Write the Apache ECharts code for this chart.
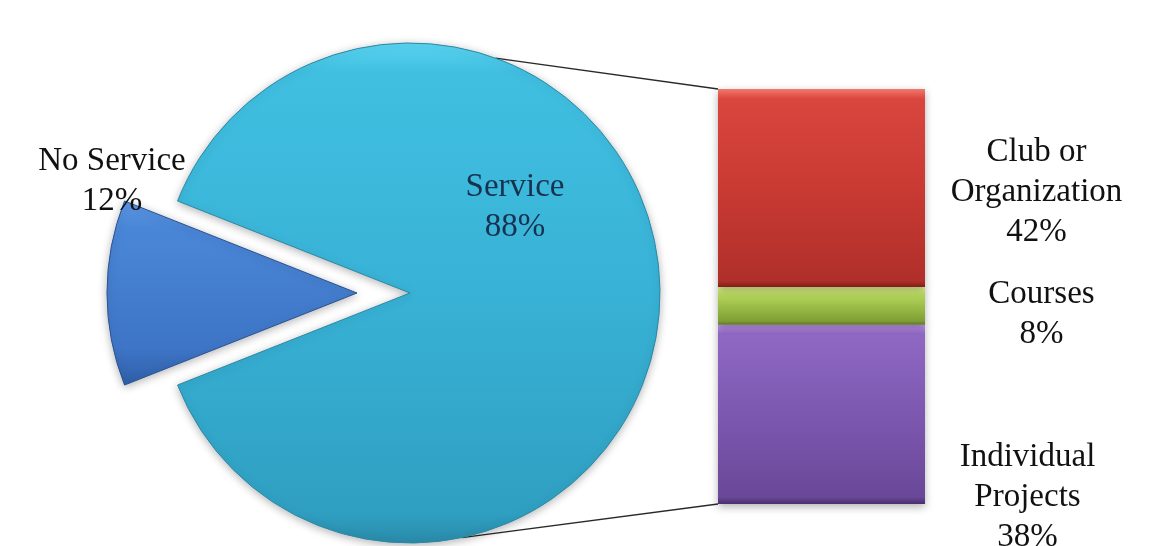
<!DOCTYPE html>
<html>
<head>
<meta charset="utf-8">
<script src="https://cdn.jsdelivr.net/npm/echarts@6/dist/echarts.min.js"></script>
<style>
  html, body { margin: 0; padding: 0; background: #ffffff; }
  #chart { width: 1171px; height: 546px; }
</style>
</head>
<body>
<div id="chart"></div>
<script>
// Pie: share of students doing service
const pieNames = ['No Service', 'Service'];
const pieValues = [12, 88];

// Bar: breakdown of the service share (bottom to top)
const barNames = ['Individual\nProjects', 'Courses', 'Club or\nOrganization'];
const barValues = [38, 8, 42];

// Layout
const PIE = { cx: 410, cy: 293, r: 250, explode: 53 };
const GRID = { left: 718, top: 89, width: 207, height: 415 };
const FONT = '"Liberation Serif", "DejaVu Serif", serif';

const pieTotal = pieValues.reduce((a, b) => a + b, 0);
const barTotal = barValues.reduce((a, b) => a + b, 0);
// Centre the "No Service" slice on the left side of the pie
const startAngle = 180 + (pieValues[0] / pieTotal) * 180;

function vGrad(stops) {
  return {
    type: 'linear', x: 0, y: 0, x2: 0, y2: 1,
    colorStops: stops.map(s => ({ offset: s[0], color: s[1] }))
  };
}

const pieStyles = [
  { color: vGrad([[0, '#5b95e2'], [0.15, '#4a86d7'], [0.8, '#3e75c6'], [1, '#2f5ea8']]),
    borderColor: '#2a5293', borderWidth: 1 },
  { color: vGrad([[0, '#5ad5f2'], [0.06, '#40bfe1'], [0.5, '#38b2d6'], [0.94, '#2f9fc1'], [1, '#2a8aa8']]),
    borderColor: '#2a89a6', borderWidth: 1 }
];
// Label anchors relative to the pie centre
const pieLabelAt = [
  { dx: -298, dy: -112, color: '#111111' },
  { dx: 105, dy: -86, color: '#17324f' }
];

const barStyles = [
  vGrad([[0, '#c79af5'], [0.05, '#8f68c4'], [0.5, '#7c58b0'], [0.96, '#6a4898'], [1, '#4a3070']]),
  vGrad([[0, '#e4f590'], [0.22, '#b2d45a'], [0.6, '#95b743'], [0.9, '#7f9e36'], [1, '#5e7626']]),
  vGrad([[0, '#f2786a'], [0.05, '#d9463e'], [0.5, '#c93a33'], [0.97, '#b02f2a'], [1, '#7d1f1c']])
];
const barLabelOffset = [[206, 83], [220, 8], [215, 4]];

const chart = echarts.init(document.getElementById('chart'), null, { renderer: 'canvas' });

// One pie layer per slice so the "No Service" slice can sit pulled out to the left
function pieLayer(visibleIndex, center) {
  return {
    type: 'pie',
    center: center,
    radius: PIE.r,
    startAngle: startAngle,
    clockwise: true,
    avoidLabelOverlap: false,
    silent: true,
    emphasis: { disabled: true },
    data: pieValues.map((v, i) => {
      const on = i === visibleIndex;
      return {
        name: pieNames[i],
        value: v,
        itemStyle: on
          ? Object.assign({ shadowColor: 'rgba(0,0,0,0.28)', shadowBlur: 8, shadowOffsetY: 2 }, pieStyles[i])
          : { color: 'rgba(0,0,0,0)', borderWidth: 0 },
        label: { show: on, color: pieLabelAt[i].color }
      };
    }),
    label: {
      position: 'inside',
      formatter: '{b}\n{c}%',
      fontFamily: FONT,
      fontSize: 33,
      lineHeight: 40,
      align: 'center'
    },
    labelLine: { show: false },
    labelLayout: p => ({
      x: PIE.cx + pieLabelAt[p.dataIndex].dx,
      y: PIE.cy + pieLabelAt[p.dataIndex].dy,
      align: 'center',
      verticalAlign: 'middle'
    })
  };
}

// Pull-out direction: middle of the "No Service" slice
const midRad = (startAngle - (pieValues[0] / pieTotal) * 180) * Math.PI / 180;
const outCenter = [PIE.cx + PIE.explode * Math.cos(midRad), PIE.cy - PIE.explode * Math.sin(midRad)];

const barSeries = barValues.map((v, i) => ({
  type: 'bar',
  name: barNames[i],
  stack: 'service',
  data: [v],
  barWidth: '100%',
  silent: true,
  itemStyle: {
    color: barStyles[i],
    shadowColor: 'rgba(0,0,0,0.3)',
    shadowBlur: 8,
    shadowOffsetY: 3
  },
  label: {
    show: true,
    position: 'inside',
    offset: barLabelOffset[i],
    formatter: p => barNames[i] + '\n' + p.value + '%',
    fontFamily: FONT,
    fontSize: 33,
    lineHeight: 40,
    color: '#111111',
    align: 'center'
  }
}));

chart.setOption({
  animation: false,
  backgroundColor: '#ffffff',
  grid: { left: GRID.left, top: GRID.top, width: GRID.width, height: GRID.height },
  xAxis: { type: 'category', data: ['Service'], show: false },
  yAxis: { type: 'value', min: 0, max: barTotal, show: false },
  series: [
    pieLayer(1, [PIE.cx, PIE.cy]),
    pieLayer(0, outCenter),
    ...barSeries
  ]
});

// Connector lines from the pie rim to the corners of the bar
function rimPoint(deg) {
  const a = deg * Math.PI / 180;
  return [PIE.cx + PIE.r * Math.cos(a), PIE.cy - PIE.r * Math.sin(a)];
}
const topRim = rimPoint(70);
const botRim = rimPoint(-78);
const barTopLeft = [GRID.left, GRID.top];
const barBotLeft = [GRID.left, GRID.top + GRID.height];
const connStyle = { stroke: '#2a2a2a', lineWidth: 1.3 };
chart.setOption({
  graphic: [
    { type: 'line', z: -1, shape: { x1: topRim[0], y1: topRim[1], x2: barTopLeft[0], y2: barTopLeft[1] }, style: connStyle },
    { type: 'line', z: -1, shape: { x1: botRim[0], y1: botRim[1], x2: barBotLeft[0], y2: barBotLeft[1] }, style: connStyle }
  ]
});
</script>
</body>
</html>
